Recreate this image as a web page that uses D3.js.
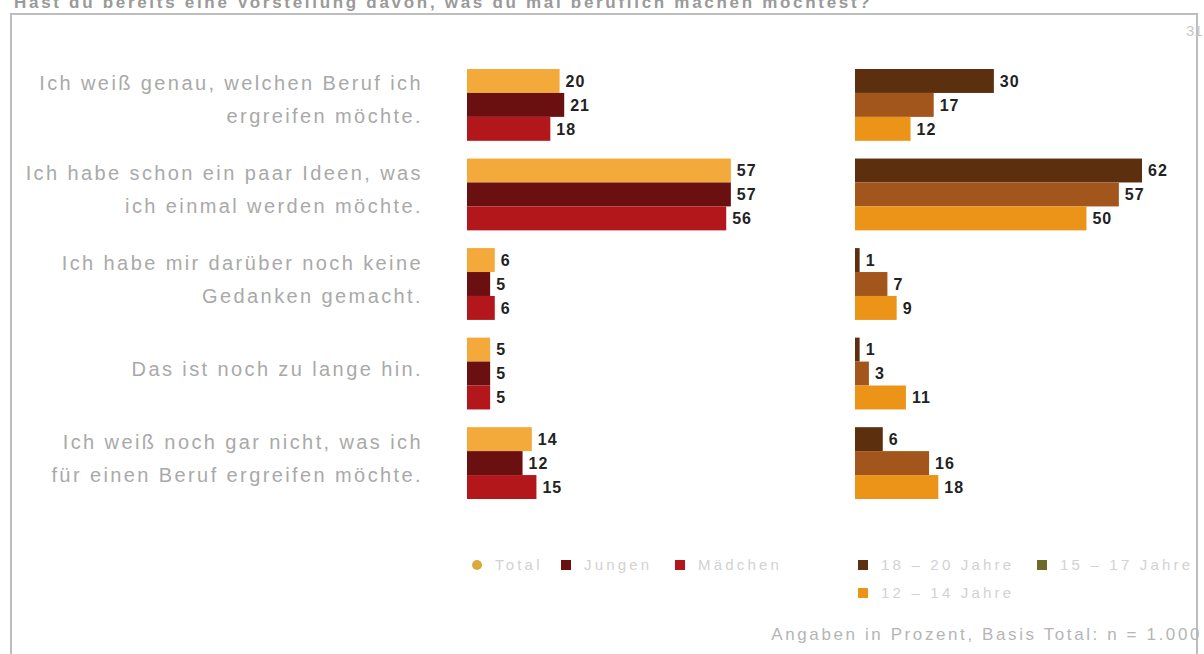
<!DOCTYPE html>
<html>
<head>
<meta charset="utf-8">
<script src="https://cdn.jsdelivr.net/npm/d3@7"></script>
<style>
  html, body { margin: 0; padding: 0; background: #fff; }
  svg { display: block; }
</style>
</head>
<body>
<svg id="chart" width="1204" height="654"></svg>
<script>
// Answer statements (each may break into two lines)
const statements = [
  ["Ich weiß genau, welchen Beruf ich", "ergreifen möchte."],
  ["Ich habe schon ein paar Ideen, was", "ich einmal werden möchte."],
  ["Ich habe mir darüber noch keine", "Gedanken gemacht."],
  ["Das ist noch zu lange hin."],
  ["Ich weiß noch gar nicht, was ich", "für einen Beruf ergreifen möchte."]
];

// Left panel: total and by gender
const genderSeries = ["Total", "Jungen", "Mädchen"];
const totalValues   = [20, 57, 6, 5, 14];
const jungenValues  = [21, 57, 5, 5, 12];
const maedchenValues = [18, 56, 6, 5, 15];

// Right panel: by age group
const ageSeries = ["18 – 20 Jahre", "15 – 17 Jahre", "12 – 14 Jahre"];
const age1820Values = [30, 62, 1, 1, 6];
const age1517Values = [17, 57, 7, 3, 16];
const age1214Values = [12, 50, 9, 11, 18];

const genderColors = ["#f4a93b", "#6a1010", "#b3171b"];
const ageColors = ["#5c2f0e", "#a3561b", "#ec9418"];

const titleText = "Hast du bereits eine Vorstellung davon, was du mal beruflich machen möchtest?";
const footnoteText = "Angaben in Prozent, Basis Total: n = 1.000";

const svg = d3.select("#chart");
const font = "'Liberation Sans', Arial, sans-serif";

// Title (cropped at the top edge) and frame
svg.append("text")
  .attr("x", 14).attr("y", 8)
  .attr("font-family", font).attr("font-size", 17).attr("font-weight", "bold")
  .attr("letter-spacing", 2.7)
  .attr("fill", "#9a9a9a")
  .text(titleText);

svg.append("rect")
  .attr("x", 11).attr("y", 14)
  .attr("width", 1186).attr("height", 660)
  .attr("fill", "none").attr("stroke", "#bdbdbd").attr("stroke-width", 2);

svg.append("text")
  .attr("x", 1186).attr("y", 36)
  .attr("font-family", font).attr("font-size", 15)
  .attr("fill", "#c8c8c8")
  .text("31");

// Scales
const groupIdx = d3.range(statements.length);
const y = d3.scaleBand().domain(groupIdx).range([69, 499]).paddingInner(0.198).paddingOuter(0);
const inner = d3.scaleBand().domain([0, 1, 2]).range([0, y.bandwidth()]).padding(0);
const x = d3.scaleLinear().domain([0, 62]).range([0, 287]);

const leftX0 = 467;
const rightX0 = 855;

function drawPanel(x0, seriesValues, colors) {
  const g = svg.append("g").attr("transform", `translate(${x0},0)`);
  seriesValues.forEach((vals, si) => {
    g.selectAll(null)
      .data(vals)
      .join("rect")
      .attr("x", 0)
      .attr("y", (d, i) => y(i) + inner(si))
      .attr("width", d => x(d))
      .attr("height", inner.bandwidth())
      .attr("fill", colors[si]);
    g.selectAll(null)
      .data(vals)
      .join("text")
      .attr("x", d => x(d) + 6)
      .attr("y", (d, i) => y(i) + inner(si) + inner.bandwidth() / 2)
      .attr("dy", "0.36em")
      .attr("font-family", font).attr("font-size", 16).attr("font-weight", "bold")
      .attr("letter-spacing", 1)
      .attr("fill", "#222")
      .text(d => d);
  });
}

drawPanel(leftX0, [totalValues, jungenValues, maedchenValues], genderColors);
drawPanel(rightX0, [age1820Values, age1517Values, age1214Values], ageColors);

// Statement labels
const lineGap = 33;
statements.forEach((lines, i) => {
  const cy = y(i) + y.bandwidth() / 2 - 5;
  const t = svg.append("text")
    .attr("text-anchor", "end")
    .attr("font-family", font).attr("font-size", 20)
    .attr("letter-spacing", 2.4)
    .attr("fill", "#a9a9a9");
  lines.forEach((ln, k) => {
    t.append("tspan")
      .attr("x", 423)
      .attr("y", cy + (k - (lines.length - 1) / 2) * lineGap)
      .attr("dy", "0.35em")
      .text(ln);
  });
});

// Legends
const legendItems = [
  { label: genderSeries[0], color: "#d9a93c", x: 477, y: 565, round: true },
  { label: genderSeries[1], color: genderColors[1], x: 566, y: 565 },
  { label: genderSeries[2], color: genderColors[2], x: 680, y: 565 },
  { label: ageSeries[0], color: ageColors[0], x: 863, y: 565 },
  { label: ageSeries[1], color: "#6e6a2c", x: 1042, y: 565 },
  { label: ageSeries[2], color: ageColors[2], x: 863, y: 593 }
];
const lg = svg.append("g");
legendItems.forEach(it => {
  lg.append("rect")
    .attr("x", it.x - 5).attr("y", it.y - 5)
    .attr("width", 10).attr("height", 10)
    .attr("rx", it.round ? 5 : 0)
    .attr("fill", it.color);
  lg.append("text")
    .attr("x", it.x + 18).attr("y", it.y)
    .attr("dy", "0.35em")
    .attr("font-family", font).attr("font-size", 15)
    .attr("letter-spacing", 3.2)
    .attr("fill", "#d2d2d2")
    .text(it.label);
});

// Footnote
svg.append("text")
  .attr("x", 1202).attr("y", 634).attr("dy", "0.35em")
  .attr("text-anchor", "end")
  .attr("font-family", font).attr("font-size", 17)
  .attr("letter-spacing", 2.6)
  .attr("fill", "#b5b5b5")
  .text(footnoteText);
</script>
</body>
</html>
